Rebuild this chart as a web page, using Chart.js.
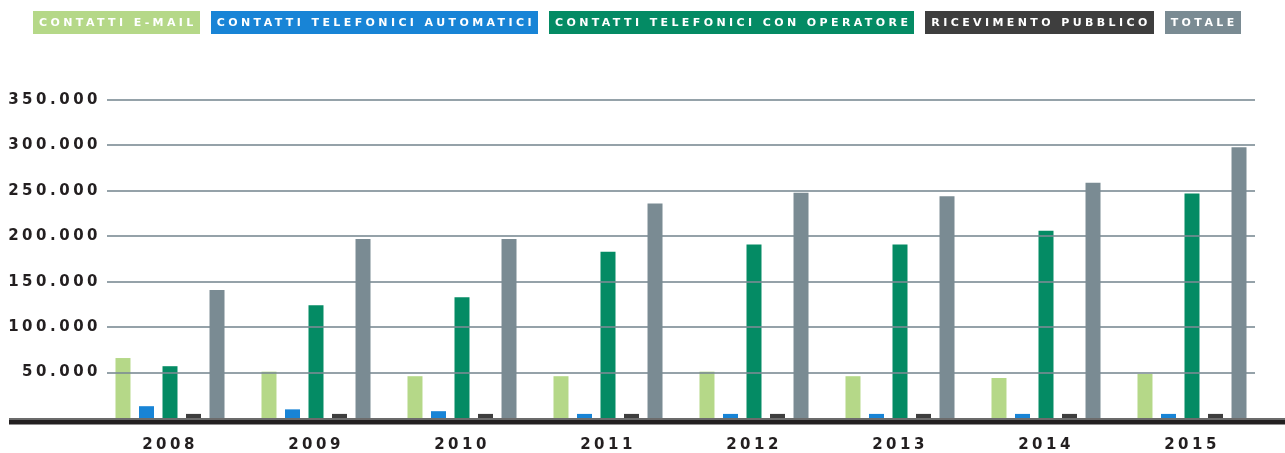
<!DOCTYPE html>
<html>
<head>
<meta charset="utf-8">
<script src="https://cdn.jsdelivr.net/npm/chart.js@4"></script>
<style>
  html, body { margin: 0; padding: 0; background: #fff; }
  #wrap { position: relative; width: 1285px; height: 453px; }
  #legend { position: absolute; left: 33px; top: 11px; display: flex; gap: 11px; }
  #legend span { display: block; font: bold 11px "DejaVu Sans"; height: 23px; line-height: 23px;
    padding: 0 3px 0 6px; color: #fff; letter-spacing: 3.4px; white-space: nowrap; }
</style>
</head>
<body>
<div id="wrap">
  <canvas id="chart" width="1285" height="453"></canvas>
  <div id="legend"></div>
</div>
<script>
const YEARS = ['2008', '2009', '2010', '2011', '2012', '2013', '2014', '2015'];
const EMAIL = [66000, 51000, 46000, 46000, 51000, 46000, 44000, 48500];
const AUTOMATICI = [13000, 9500, 7500, 4500, 4500, 4500, 4500, 4500];
const OPERATORE = [57000, 124000, 133000, 183000, 191000, 191000, 206000, 247000];
const PUBBLICO = [4500, 4500, 4500, 4500, 4500, 4500, 4500, 4500];
const TOTALE = [141000, 197000, 197000, 236000, 248000, 244000, 259000, 298000];

const SERIES_LABELS = ['CONTATTI E-MAIL', 'CONTATTI TELEFONICI AUTOMATICI', 'CONTATTI TELEFONICI CON OPERATORE', 'RICEVIMENTO PUBBLICO', 'TOTALE'];
const COLORS = ['#b5d888', '#1884d6', '#048b64', '#3e3e3e', '#7a8b93'];

const INK = '#231f20';
const FONT = { family: '"DejaVu Sans"', weight: 'bold', size: 15 };

function fmtThousands(v){
  return String(v).replace(/\B(?=(\d{3})+(?!\d))/g, '.');
}

// canvas letter spacing for the spaced-out tick labels
const spacing = {
  id: 'spacing',
  beforeLayout(chart){ chart.ctx.letterSpacing = '3.5px'; },
  beforeDraw(chart){ chart.ctx.letterSpacing = '3.5px'; }
};

// gridlines over the bars (shorter than chart area) + heavy baseline
const gridLines = {
  id: 'gridLines',
  afterDatasetsDraw(chart){
    const { ctx, scales: { y } } = chart;
    ctx.save();
    ctx.strokeStyle = 'rgba(122,139,147,0.8)';
    ctx.lineWidth = 2;
    y.ticks.forEach(t => {
      if(t.value === 0) return;
      const py = Math.round(y.getPixelForValue(t.value));
      ctx.beginPath(); ctx.moveTo(107, py); ctx.lineTo(1255, py); ctx.stroke();
    });
    const y0 = y.getPixelForValue(0);
    ctx.fillStyle = '#6b6b6b';
    ctx.fillRect(9, y0, 1276, 2);
    ctx.fillStyle = INK;
    ctx.fillRect(9, y0 + 2, 1276, 4.5);
    ctx.restore();
  }
};

const seriesData = [EMAIL, AUTOMATICI, OPERATORE, PUBBLICO, TOTALE];

const chart = new Chart(document.getElementById('chart'), {
  type: 'bar',
  data: {
    labels: YEARS,
    datasets: seriesData.map((d, i) => ({
      label: SERIES_LABELS[i],
      data: d,
      backgroundColor: COLORS[i],
      categoryPercentage: 0.805,
      barPercentage: 0.638
    }))
  },
  options: {
    responsive: false,
    animation: false,
    layout: { padding: { top: 100, right: 20, left: 2, bottom: 0 } },
    plugins: { legend: { display: false }, tooltip: { enabled: false } },
    scales: {
      x: {
        grid: { display: false, drawTicks: false },
        border: { display: false },
        ticks: { color: INK, font: FONT, padding: 18, maxRotation: 0 },
        afterFit(scale){ scale.height = 35; }
      },
      y: {
        min: 0, max: 350000,
        grid: { display: false, drawTicks: false },
        border: { display: false },
        ticks: {
          stepSize: 50000, color: INK, font: FONT, padding: -4,
          callback: v => v === 0 ? '' : fmtThousands(v)
        },
        afterFit(scale){ scale.width = 95; }
      }
    }
  },
  plugins: [spacing, gridLines]
});

// legend: coloured boxes with white text, built from the datasets
const legend = document.getElementById('legend');
chart.data.datasets.forEach(ds => {
  const s = document.createElement('span');
  s.textContent = ds.label;
  s.style.background = ds.backgroundColor;
  legend.appendChild(s);
});
</script>
</body>
</html>
